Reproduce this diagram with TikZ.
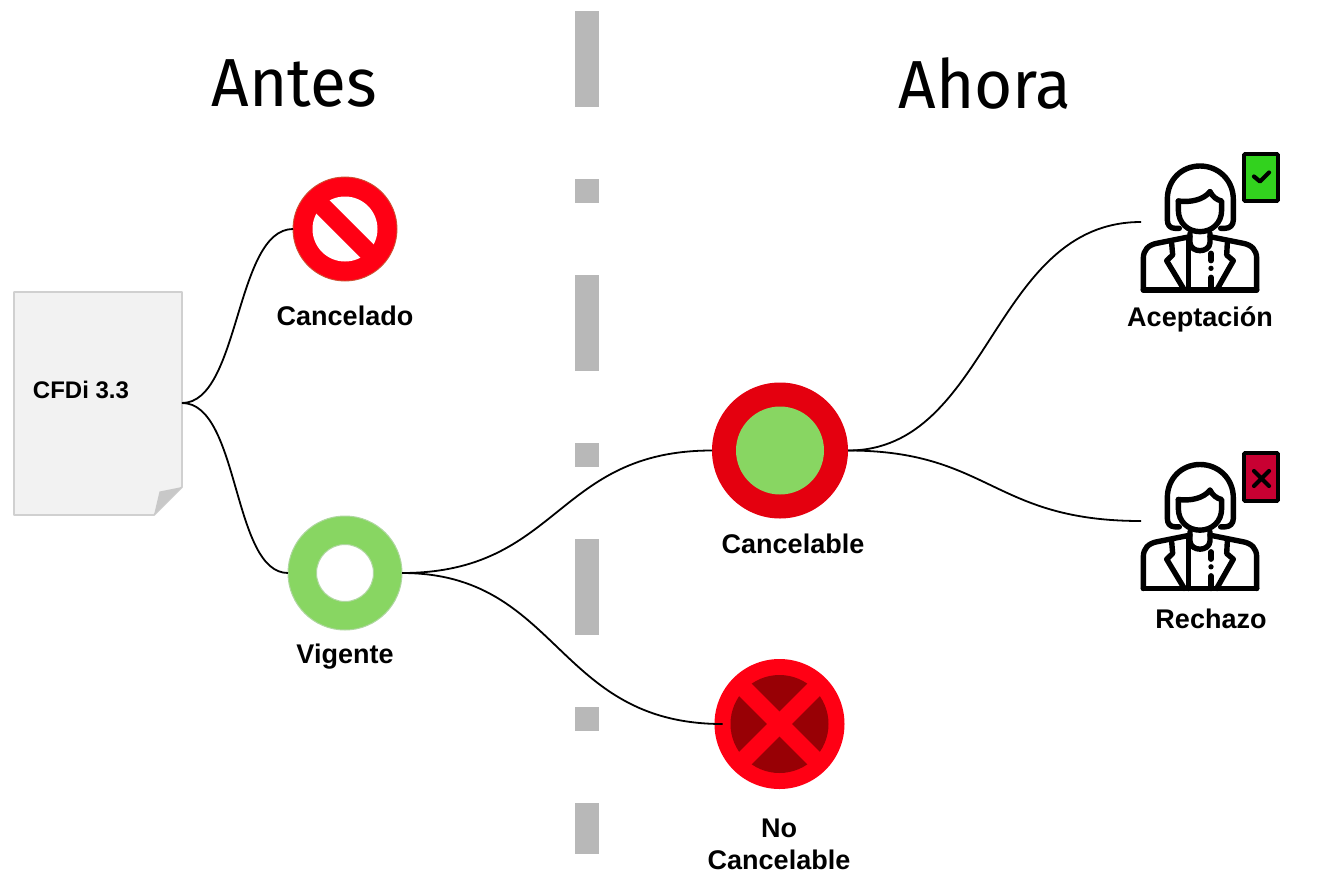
\documentclass[tikz,border=0pt]{standalone}
\usepackage{fontspec}
\usetikzlibrary{calc}
\setmainfont{Liberation Sans}
\newfontfamily\titlefont[FakeStretch=0.965]{Fira Sans}
\definecolor{dashgray}{RGB}{184,184,184}
\definecolor{paper}{RGB}{242,242,242}
\definecolor{paperedge}{RGB}{208,208,208}
\definecolor{foldgray}{RGB}{200,200,200}
\definecolor{stopred}{RGB}{255,0,20}
\definecolor{stopedge}{RGB}{205,80,50}
\definecolor{okgreen}{RGB}{136,214,98}
\definecolor{okedge}{RGB}{175,215,160}
\definecolor{warnred}{RGB}{228,0,15}
\definecolor{darkred}{RGB}{152,0,5}
\definecolor{badgegreen}{RGB}{50,210,30}
\definecolor{badgered}{RGB}{200,0,50}
\tikzset{
  dashbar/.style={fill=dashgray,draw=none},
  title/.style={font=\titlefont\fontsize{68}{80}\selectfont,inner sep=0pt,text=black},
  lbl/.style={font=\bfseries\fontsize{27}{32}\selectfont,inner sep=0pt,anchor=center,align=center},
  disc/.style={circle,inner sep=0pt,outer sep=0pt},
  conn/.style={draw=black,line width=1.8pt},
  iconline/.style={draw=black,line width=5.4pt,line cap=round,line join=round},
  person/.pic={
    \begin{scope}[x=.3333pt,y=-.3333pt]
      \draw[iconline] (178,265) -- (165,265) .. controls (150,265) and (142,255) .. (142,240) -- (142,178)
        .. controls (142,120) and (185,78) .. (240,78) .. controls (295,78) and (340,120) .. (340,178)
        -- (340,240) .. controls (340,255) and (330,265) .. (315,265) -- (302,265);
      \draw[iconline] (175,183) -- (175,210) .. controls (175,250) and (205,275) .. (240,275)
        .. controls (275,275) and (305,250) .. (305,210) -- (305,183)
        .. controls (290,180) and (278,170) .. (270,155);
      \draw[iconline] (175,183) .. controls (210,188) and (250,180) .. (270,155);
      \draw[iconline] (210,280) -- (210,308) .. controls (212,340) and (268,340) .. (270,308) -- (270,280);
      \draw[iconline] (70,450) -- (70,355) .. controls (70,330) and (85,315) .. (110,310) -- (210,290);
      \draw[iconline] (410,450) -- (410,355) .. controls (410,330) and (395,315) .. (370,310) -- (270,290);
      \draw[iconline] (70,450) -- (410,450);
      \draw[iconline] (155,310) -- (158,345) -- (140,362) -- (193,450);
      \draw[iconline] (322,310) -- (320,345) -- (340,362) -- (290,450);
      \draw[iconline] (205,300) -- (205,450);
      \draw[iconline] (273,340) -- (273,362);
      \draw[iconline] (273,412) -- (273,450);
      \fill[black] (273,385) circle (8);
    \end{scope}
  }
}
\begin{document}
\begin{tikzpicture}[x=1pt,y=-1pt]
\useasboundingbox (0,0) rectangle (1320,884);
% divider
\foreach \ya/\yb in {11/107,179/203,275/371,443/467,539/635,707/731,803/854}
  \fill[dashbar] (575,\ya) rectangle (599,\yb);
% titles
\node[title] (antes) at (294,83) {Antes};
\node[title] (ahora) at (985,83) {Ahora};
% document
\draw[fill=paper,draw=paperedge,line width=1.8pt,line join=round]
  (14,292) -- (182,292) -- (182,487) -- (154,515) -- (14,515) -- cycle;
\fill[foldgray] (182,487) -- (159.5,491.5) -- (154,515) -- cycle;
\node[font=\bfseries\fontsize{24}{28}\selectfont,inner sep=0pt] (cfdilabel) at (81,390) {CFDi 3.3};
\coordinate (doc) at (182,403);
% cancelado
\node[disc,fill=stopred,draw=stopedge,line width=.9pt,minimum size=104pt] (cancel) at (345,229) {};
\fill[white] (cancel.center) circle (32.5);
\draw[stopred,line width=18.4pt] ($(cancel.center)+(-34,-34)$) -- ($(cancel.center)+(34,34)$);
% vigente
\node[disc,fill=okgreen,draw=okedge,line width=1pt,minimum size=114pt] (vig) at (345,573) {};
\node[disc,fill=white,draw=okedge,line width=1pt,minimum size=57pt] (viginner) at (345,573) {};
% cancelable
\node[disc,fill=warnred,minimum size=136pt] (cble) at (780,450.5) {};
\node[disc,fill=okgreen,minimum size=88pt] (cbleinner) at (780,450.5) {};
% no cancelable
\node[disc,fill=stopred,minimum size=130pt] (nocan) at (779.5,724) {};
\node[disc,fill=darkred,minimum size=98pt] (nocaninner) at (779.5,724) {};
\draw[stopred,line width=17.4pt] ($(nocan.center)+(-39,-39)$) -- ($(nocan.center)+(39,39)$);
\draw[stopred,line width=17.4pt] ($(nocan.center)+(39,-39)$) -- ($(nocan.center)+(-39,39)$);
% people
\pic at (1120,140) {person};
\pic at (1120,438.5) {person};
\coordinate (pa) at (1141,222);
\coordinate (pr) at (1141,521);
% badges
\draw[fill=badgegreen,draw=black,line width=3.8pt,rounded corners=1pt] (1244,154) rectangle (1278,201);
\draw[black,line width=4.2pt,line cap=round,line join=round] (1254,176.5) -- (1260,181.5) -- (1269,172.5);
\draw[fill=badgered,draw=black,line width=3.8pt,rounded corners=1pt] (1244,453) rectangle (1278,501);
\draw[black,line width=4.2pt,line cap=round] (1254,471) -- (1269,486) (1269,471) -- (1254,486);
% connectors
\draw[conn] (doc) .. controls (240,403) and (235,229) .. (cancel.west);
\draw[conn] (doc) .. controls (240,403) and (232,573) .. (vig.west);
\draw[conn] (vig.east) .. controls (560,573) and (555,450.5) .. (cble.west);
\draw[conn] (vig.east) .. controls (560,573) and (555,724) .. ([xshift=8pt]nocan.west);
\draw[conn] (cble.east) .. controls (990,450.5) and (992,222) .. (pa);
\draw[conn] (cble.east) .. controls (990,450.5) and (992,521) .. (pr);
% labels
\node[lbl] (l1) at (345,316) {Cancelado};
\node[lbl] (l2) at (345,656.5) {Vigente};
\node[lbl] (l3) at (793,544) {Cancelable};
\node[lbl] (l4) at (779,828) {No};
\node[lbl] (l5) at (779,860) {Cancelable};
\node[lbl] (l6) at (1200,319.5) {Aceptación};
\node[lbl] (l7) at (1211,619) {Rechazo};
\end{tikzpicture}
\end{document}
